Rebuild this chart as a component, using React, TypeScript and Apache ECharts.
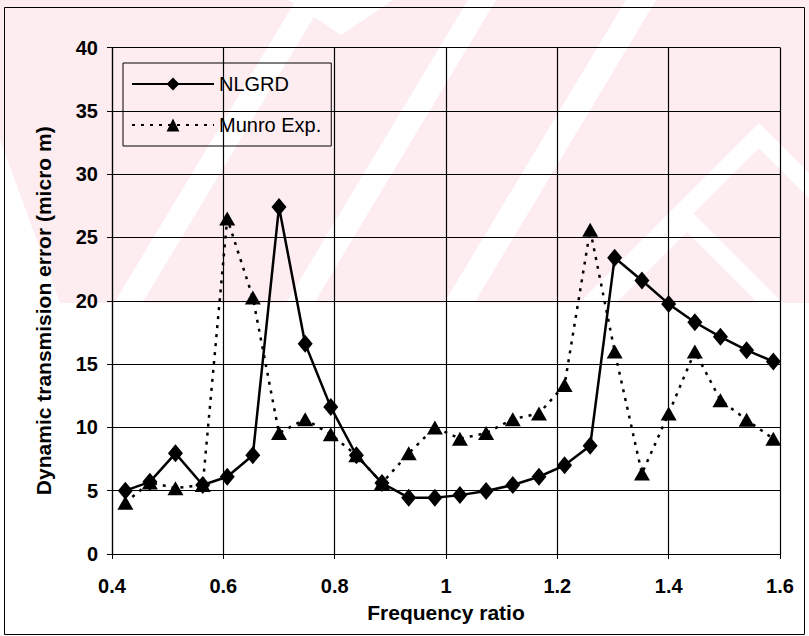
import React, { useEffect, useRef } from "react";
import * as echarts from "echarts";

const freqRatio = [0.424, 0.468, 0.514, 0.563, 0.607, 0.653, 0.7, 0.747, 0.793, 0.839, 0.885, 0.933, 0.98, 1.025, 1.072, 1.12, 1.167, 1.213, 1.259, 1.303, 1.352, 1.4, 1.447, 1.493, 1.54, 1.588];
const nlgrd = [5.0, 5.7, 7.95, 5.45, 6.1, 7.8, 27.4, 16.6, 11.6, 7.8, 5.6, 4.45, 4.45, 4.65, 4.97, 5.45, 6.1, 7.0, 8.55, 23.4, 21.6, 19.75, 18.3, 17.15, 16.1, 15.2];
const munro = [4.05, 5.65, 5.2, 5.45, 26.5, 20.25, 9.55, 10.65, 9.45, 7.8, 5.6, 7.95, 10.0, 9.1, 9.55, 10.65, 11.1, 13.35, 25.6, 16.0, 6.35, 11.1, 16.0, 12.15, 10.6, 9.1];
const seriesNames = ["NLGRD", "Munro Exp."];
const xTitle = "Frequency ratio";
const yTitle = "Dynamic transmision error (micro m)";

const FONT = "'Liberation Sans', Arial, sans-serif";
const PINK = "#fdedf0";

function wm(points: number[][]) {
  return { type: "polygon", z: -100, silent: true, shape: { points }, style: { fill: "#ffffff" } };
}
function slash(x160: number, w: number) {
  const k = 0.6;
  const top = x160 + 160 * k;
  const bot = x160 - 143 * k;
  return wm([[bot, 303], [bot + w, 303], [top + w, 0], [top, 0]]);
}

export default function App() {
  const ref = useRef<HTMLDivElement>(null);
  useEffect(() => {
    if (!ref.current) return;
    const chart = echarts.init(ref.current, null, { renderer: "svg" });
    const pts = (ys: number[]) => freqRatio.map((x, i) => [x, ys[i]]);
    chart.setOption({
      animation: false,
      backgroundColor: "#ffffff",
      textStyle: { fontFamily: FONT, color: "#000" },
      graphic: {
        elements: [
          { type: "rect", z: -110, silent: true, shape: { x: 0, y: 0, width: 809, height: 303 }, style: { fill: PINK } },
          wm([[289, 0], [393, 0], [341, 35]]),
          wm([[0, 140], [0, 303], [60, 303]]),
          slash(200, 28),
          slash(372, 28),
          slash(530, 30),
          wm([[579, 303], [759, 123], [809, 173], [809, 198], [759, 148], [604, 303]]),
          wm([[591, 303], [687, 207], [783, 303], [758, 303], [687, 232], [616, 303]]),
          {
            type: "rect",
            z: 100,
            silent: true,
            shape: { x: 4.5, y: 7.5, width: 800, height: 627 },
            style: { fill: "none", stroke: "#000", lineWidth: 1 },
          },
        ],
      },
      legend: {
        data: seriesNames,
        orient: "vertical",
        left: 123,
        top: 63,
        padding: [11, 10, 11, 8],
        itemGap: 21,
        itemWidth: 82,
        itemHeight: 16,
        borderColor: "#000",
        borderWidth: 1,
        backgroundColor: "transparent",
        textStyle: { fontSize: 20, color: "#000", fontFamily: FONT },
      },
      grid: { left: 112, right: 29, top: 47.5, bottom: 82, containLabel: false },
      xAxis: {
        type: "value",
        min: 0.4,
        max: 1.6,
        interval: 0.2,
        name: xTitle,
        nameLocation: "middle",
        nameGap: 48,
        nameTextStyle: { fontSize: 21, fontWeight: "bold", color: "#000", fontFamily: FONT },
        axisLine: { show: true, onZero: false, lineStyle: { color: "#000", width: 1.2 } },
        axisTick: { show: true, length: 5, lineStyle: { color: "#000" } },
        axisLabel: { color: "#000", fontSize: 20, fontWeight: "bold", margin: 22, fontFamily: FONT },
        splitLine: { show: true, lineStyle: { color: "#000", width: 1.2 } },
      },
      yAxis: {
        type: "value",
        min: 0,
        max: 40,
        interval: 5,
        name: yTitle,
        nameLocation: "middle",
        nameGap: 58,
        nameRotate: 90,
        nameTextStyle: { fontSize: 21, fontWeight: "bold", color: "#000", fontFamily: FONT, padding: [0, 20, 0, 0] },
        axisLine: { show: true, lineStyle: { color: "#000", width: 1.2 } },
        axisTick: { show: true, length: 5, lineStyle: { color: "#000" } },
        axisLabel: { color: "#000", fontSize: 20, fontWeight: "bold", margin: 14, fontFamily: FONT },
        splitLine: { show: true, lineStyle: { color: "#000", width: 1.2 } },
      },
      series: [
        {
          name: seriesNames[0],
          type: "line",
          data: pts(nlgrd),
          symbol: "diamond",
          symbolSize: [15, 18],
          itemStyle: { color: "#000" },
          lineStyle: { color: "#000", width: 2.5, type: "solid" },
          z: 3,
        },
        {
          name: seriesNames[1],
          type: "line",
          data: pts(munro),
          symbol: "triangle",
          symbolSize: [16, 14],
          itemStyle: { color: "#000" },
          lineStyle: { color: "#000", width: 2.5, type: [3, 6] },
          z: 2,
        },
      ],
    });
    return () => chart.dispose();
  }, []);
  return <div ref={ref} style={{ position: "fixed", left: 0, top: 0, width: 809, height: 636 }} />;
}
